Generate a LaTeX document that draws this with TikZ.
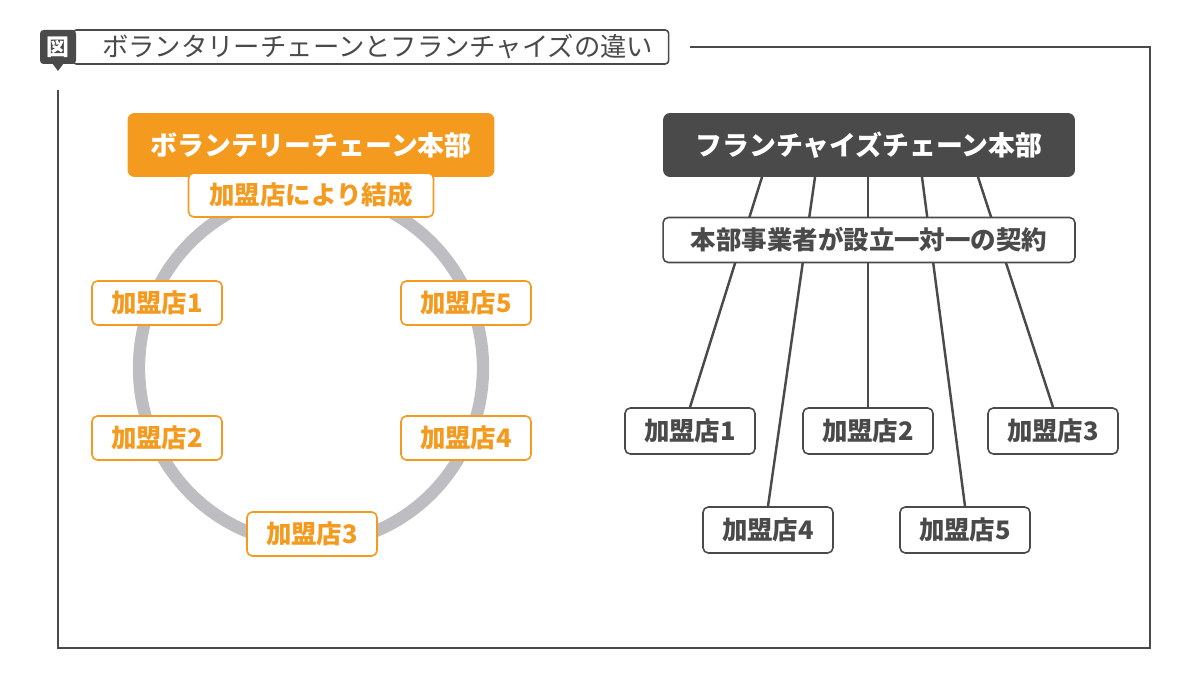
\documentclass[tikz,border=0pt]{standalone}
\usepackage{fontspec}
\setmainfont{Noto Sans CJK JP}
\definecolor{vorange}{HTML}{F39A1F}
\definecolor{fdark}{HTML}{4A4A4A}
\definecolor{ringgray}{HTML}{BDBDC2}
\begin{document}
\begin{tikzpicture}[x=0.02cm,y=-0.02cm,
    head/.style={rounded corners=4pt, minimum width=7.3cm, minimum height=1.28cm, text=white, font=\fontsize{15.3}{15.3}\selectfont\bfseries},
    obox/.style={draw=vorange, fill=white, rounded corners=3pt, line width=0.9pt, text=vorange, minimum width=2.6cm, minimum height=0.88cm, font=\fontsize{14.5}{14.5}\selectfont\bfseries},
    gbox/.style={draw=fdark, fill=white, rounded corners=3pt, line width=0.9pt, text=fdark, minimum width=2.6cm, minimum height=0.92cm, font=\fontsize{14.5}{14.5}\selectfont\bfseries},
    link/.style={fdark, line width=1.4pt}]
    \useasboundingbox (0,0) rectangle (1200,675);
    % frame
    \draw[fdark, line width=0.9pt] (690,47) -- (1150,47) -- (1150,648) -- (58,648) -- (58,90);
    \node[draw=fdark, fill=white, rounded corners=2pt, line width=0.9pt, minimum width=11.92cm, minimum height=0.68cm, anchor=west, inner sep=0pt] (title) at (72,47) {};
    \node[anchor=west, text=fdark, font=\fontsize{15}{15}\selectfont] at (96,47) {ボランタリーチェーンとフランチャイズの違い};
    \fill[fdark, rounded corners=2pt] (40,30) rectangle (76,64);
    \fill[fdark] (52,63) -- (64,63) -- (58,71) -- cycle;
    \node[text=white, font=\fontsize{13}{13}\selectfont\bfseries] (zu) at (58,47) {図};
    % voluntary chain
    \draw[ringgray, line width=7pt] (311,368) ellipse (172 and 176);
    \node[head, fill=vorange, minimum width=7.34cm] (vhq) at (311,145) {ボランテリーチェーン本部};
    \node[obox, minimum width=4.9cm] (vform) at (311,195) {加盟店により結成};
    \node[obox] (v1) at (157,303) {加盟店1};
    \node[obox] (v2) at (157,438) {加盟店2};
    \node[obox] (v3) at (312,534) {加盟店3};
    \node[obox] (v4) at (466,438) {加盟店4};
    \node[obox] (v5) at (466,303) {加盟店5};
    % franchise chain
    \node[head, fill=fdark, minimum width=8.24cm] (fhq) at (869,145) {フランチャイズチェーン本部};
    \node[gbox] (f1) at (690,431) {加盟店1};
    \node[gbox] (f2) at (868,431) {加盟店2};
    \node[gbox] (f3) at (1053,431) {加盟店3};
    \node[gbox] (f4) at (768,530) {加盟店4};
    \node[gbox] (f5) at (965,530) {加盟店5};
    \foreach \x/\t in {762/f1, 815/f4, 868/f2, 922/f5, 978/f3}
        \draw[link] (\x,177) -- (\t.north);
    \node[gbox, minimum width=8.24cm, minimum height=0.9cm] (contract) at (869,240) {本部事業者が設立一対一の契約};
\end{tikzpicture}
\end{document}
